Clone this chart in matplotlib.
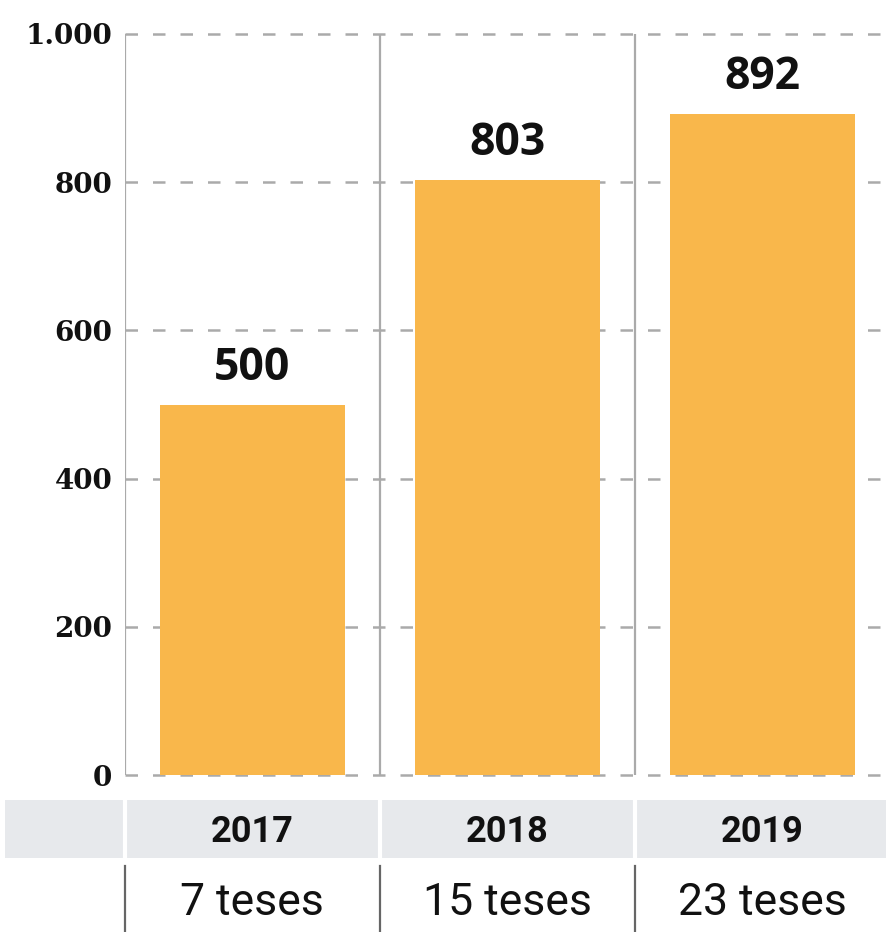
import matplotlib
matplotlib.use("Agg")
import matplotlib.pyplot as plt
from matplotlib.patches import Rectangle
import matplotlib.transforms as mtransforms

years = ["2017", "2018", "2019"]
values = [500, 803, 892]
theses = ["7 teses", "15 teses", "23 teses"]
yticks = [0, 200, 400, 600, 800, 1000]
ytick_labels = ["0", "200", "400", "600", "800", "1.000"]

W, H = 887, 932
fig = plt.figure(figsize=(W / 100, H / 100), dpi=100)

ax_left, ax_right = 125 / W, 1.0
ax_top, ax_bottom = 1 - 34 / H, 1 - 775 / H
ax = fig.add_axes([ax_left, ax_bottom, ax_right - ax_left, ax_top - ax_bottom])

bar_color = "#F9B74B"
x = list(range(len(years)))
bars = ax.bar(x, values, width=0.725, color=bar_color, zorder=3)
ax.bar_label(bars, labels=[str(v) for v in values], padding=10,
             fontsize=32, fontweight="bold", family="Open Sans", color="#111111")

ax.set_xlim(-0.5, 2.49)
ax.set_ylim(0, 1000)
ax.set_yticks(yticks)
ax.set_yticklabels(ytick_labels, fontsize=20, fontweight="bold",
                   family="DejaVu Serif", color="#111111")
ax.tick_params(axis="y", length=0, pad=9)
ax.set_xticks([])
for s in ax.spines.values():
    s.set_visible(False)

# dashed horizontal gridlines
for yv in yticks:
    ax.axhline(yv, color="#aaaaaa", lw=1.8, ls=(0, (5, 6)), zorder=1, clip_on=False)
# vertical separators
for xv in [-0.5, 0.5, 1.5]:
    ax.axvline(xv, color="#aaaaaa", lw=1.6, zorder=2)

# gray band with year labels
band_top, band_bot = 1 - 800 / H, 1 - 858 / H
fig.patches.append(Rectangle((5 / W, band_bot), 1 - 5 / W, band_top - band_bot,
                             transform=fig.transFigure, facecolor="#e7e9ec",
                             edgecolor="none", zorder=0))
trans = mtransforms.blended_transform_factory(ax.transData, fig.transFigure)
for xv in [-0.5, 0.5, 1.5]:
    fig.add_artist(plt.Line2D([xv, xv], [band_bot, band_top], transform=trans,
                              color="white", lw=3))
    fig.add_artist(plt.Line2D([xv, xv], [0, 1 - 866 / H], transform=trans,
                              color="#666666", lw=1.6))

for i, (yr, th) in enumerate(zip(years, theses)):
    fig.text(i, 1 - 832 / H, yr, transform=trans, ha="center", va="center",
             fontsize=26, fontweight="bold",
             family=["Liberation Sans Narrow", "Roboto"], color="#111111")
    fig.text(i, 1 - 903 / H, th, transform=trans, ha="center", va="center",
             fontsize=32, family=["Liberation Sans Narrow", "Roboto"], color="#111111")

fig.savefig("out.png", dpi=100)
